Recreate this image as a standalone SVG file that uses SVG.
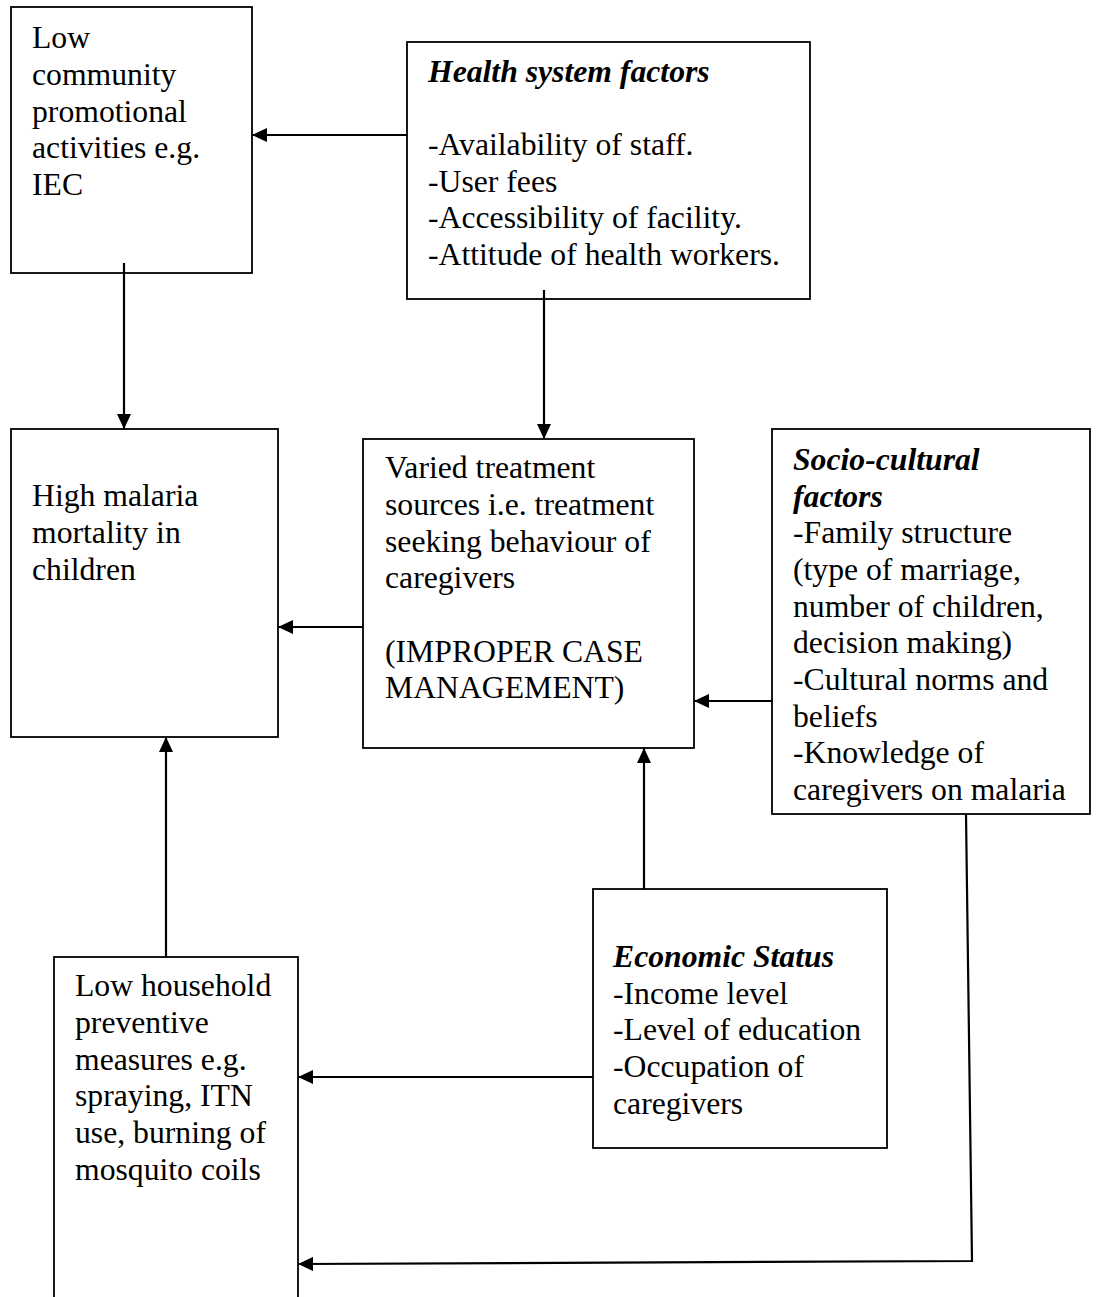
<svg xmlns="http://www.w3.org/2000/svg" width="1096" height="1297" viewBox="0 0 1096 1297">
<style>
.box{fill:#fff;stroke:#000;stroke-width:1.8}
.t{font-family:"Liberation Serif","Times New Roman",serif;font-size:31.7px;fill:#000}
.h{font-weight:bold;font-style:italic}
.c{fill:none;stroke:#000;stroke-width:2.2}
</style>
<defs>
<marker id="arr" markerWidth="16" markerHeight="14" refX="15" refY="7" orient="auto" markerUnits="userSpaceOnUse">
<path d="M0,0 L15,7 L0,14 z" fill="#000"/>
</marker>
</defs>
<rect width="1096" height="1297" fill="#fff"/>

<g id="low-community">
<rect class="box" x="11" y="7" width="241" height="266"/>
<text class="t" x="32" y="48"><tspan x="32" y="48">Low</tspan><tspan x="32" y="85">community</tspan><tspan x="32" y="121.5">promotional</tspan><tspan x="32" y="158">activities e.g.</tspan><tspan x="32" y="194.5">IEC</tspan></text>
</g>

<g id="health-system">
<rect class="box" x="407" y="42" width="403" height="257"/>
<text class="t" x="428" y="82"><tspan class="h" x="428" y="82">Health system factors</tspan><tspan x="428" y="155">-Availability of staff.</tspan><tspan x="428" y="191.5">-User fees</tspan><tspan x="428" y="228">-Accessibility of facility.</tspan><tspan x="428" y="265">-Attitude of health workers.</tspan></text>
</g>

<g id="high-malaria">
<rect class="box" x="11" y="429" width="267" height="308"/>
<text class="t" x="32" y="506"><tspan x="32" y="506">High malaria</tspan><tspan x="32" y="543">mortality in</tspan><tspan x="32" y="580">children</tspan></text>
</g>

<g id="varied-treatment">
<rect class="box" x="363" y="439" width="331" height="309"/>
<text class="t" x="385" y="478"><tspan x="385" y="478">Varied treatment</tspan><tspan x="385" y="515">sources i.e. treatment</tspan><tspan x="385" y="551.5">seeking behaviour of</tspan><tspan x="385" y="588">caregivers</tspan><tspan x="385" y="661.5">(IMPROPER CASE</tspan><tspan x="385" y="698">MANAGEMENT)</tspan></text>
</g>

<g id="socio-cultural">
<rect class="box" x="772" y="429" width="318" height="385"/>
<text class="t" x="793" y="470"><tspan class="h" x="793" y="470">Socio-cultural</tspan><tspan class="h" x="793" y="506.5">factors</tspan><tspan x="793" y="543">-Family structure</tspan><tspan x="793" y="580">(type of marriage,</tspan><tspan x="793" y="616.5">number of children,</tspan><tspan x="793" y="653">decision making)</tspan><tspan x="793" y="690">-Cultural norms and</tspan><tspan x="793" y="726.5">beliefs</tspan><tspan x="793" y="763">-Knowledge of</tspan><tspan x="793" y="800">caregivers on malaria</tspan></text>
</g>

<g id="economic-status">
<rect class="box" x="593" y="889" width="294" height="259"/>
<text class="t" x="613" y="967"><tspan class="h" x="613" y="967">Economic Status</tspan><tspan x="613" y="1003.5">-Income level</tspan><tspan x="613" y="1040">-Level of education</tspan><tspan x="613" y="1077">-Occupation of</tspan><tspan x="613" y="1113.5">caregivers</tspan></text>
</g>

<g id="low-household">
<rect class="box" x="54" y="957" width="244" height="360"/>
<text class="t" x="75" y="996"><tspan x="75" y="996">Low household</tspan><tspan x="75" y="1033">preventive</tspan><tspan x="75" y="1069.5">measures e.g.</tspan><tspan x="75" y="1106">spraying, ITN</tspan><tspan x="75" y="1143">use, burning of</tspan><tspan x="75" y="1180">mosquito coils</tspan></text>
</g>

<g id="connectors">
<path class="c" d="M407,135 L252,135" marker-end="url(#arr)"/>
<path class="c" d="M124,263 L124,429" marker-end="url(#arr)"/>
<path class="c" d="M544,290 L544,439" marker-end="url(#arr)"/>
<path class="c" d="M363,627 L278,627" marker-end="url(#arr)"/>
<path class="c" d="M772,701 L694,701" marker-end="url(#arr)"/>
<path class="c" d="M644,889 L644,748" marker-end="url(#arr)"/>
<path class="c" d="M166,957 L166,737" marker-end="url(#arr)"/>
<path class="c" d="M593,1077 L298,1077" marker-end="url(#arr)"/>
<path class="c" d="M966,814 L972,1261 L298,1264" marker-end="url(#arr)"/>
</g>
</svg>
